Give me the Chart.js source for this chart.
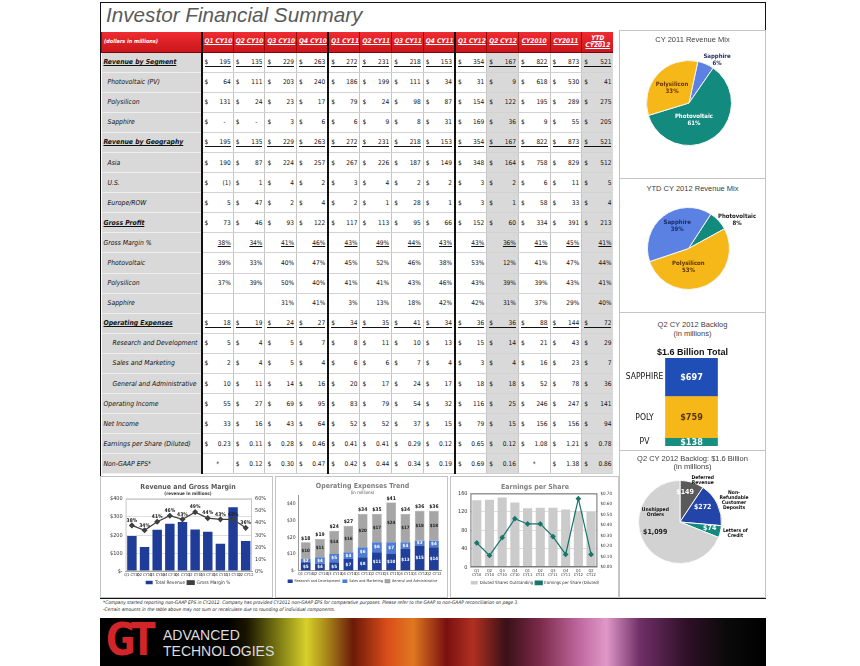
<!DOCTYPE html>
<html>
<head>
<meta charset="utf-8">
<title>Investor Financial Summary</title>
<script src="https://cdn.jsdelivr.net/npm/chart.js@4.4.1/dist/chart.umd.min.js"></script>
<style>
body { margin:0; width:860px; height:666px; position:relative; overflow:hidden; background:#fff;
  font-family:'Liberation Sans Narrow','DejaVu Sans Condensed',Roboto,sans-serif; color:#111; }
.abs { position:absolute; }
#frame { left:100px; top:2px; width:666px; height:597px; border:1.5px solid #111; box-sizing:border-box; }
#pageTitle { left:106px; top:3px; font:italic 20.7px 'Liberation Sans',Arial,sans-serif; color:#5a5a5a; }
#fin { position:absolute; left:101px; top:32px; width:512px; border-collapse:collapse; table-layout:fixed; font-size:6.5px; }
#fin td { padding:0 2px; border-left:1px solid #c6c6c6; border-bottom:1px solid #d2d2d2; white-space:nowrap; overflow:hidden; vertical-align:middle; line-height:8px; }
#fin tr { height:20.1px; }
#fin tr.hd { height:20px; }
#fin tr.hd td { background:linear-gradient(#ef2c31,#c9161b); color:#fff; font-weight:bold; font-style:italic; text-align:center; border-left:1px solid #9e0a0e; border-bottom:1px solid #7a0508; line-height:7px; }
#fin tr.hd td span { text-decoration:underline; }
#fin tr.hd td.lab { text-align:left; background:linear-gradient(#ef2c31,#c9161b); color:#fff; font-size:5.5px; }
#fin td.lab { background:#d9d9d9; font-style:italic; border-left:none; border-bottom:1px solid #efefef; text-align:left; font-size:6.8px; }
#fin td.lab.main { font-weight:bold; text-decoration:underline; }
#fin td.lab.sub { padding-left:6px; }
#fin td.lab.sub2 { padding-left:11px; }
#fin td.num { text-align:right; }
#fin td.sh { background:#d9d9d9; }
#fin td.tk { border-left:2px solid #111; }
.cur { float:left; }
.ul { border-bottom:1px solid #111; line-height:8px; }
.pul { text-decoration:underline; }
.box { position:absolute; border:1px solid #c4c4c4; box-sizing:border-box; }
.ptitle { position:absolute; left:620px; width:145px; text-align:center; font:7.5px 'Liberation Sans',Arial,sans-serif; color:#404040; line-height:9px; }
canvas { position:absolute; }
.note { position:absolute; left:103px; font-style:italic; font-size:4.8px; color:#222; white-space:nowrap; }
#banner { left:100px; top:618px; width:666px; height:48px;
  background:linear-gradient(90deg,#000 0%,#000 19%,#1a1400 22%,#6b6a10 26%,#d8d02a 31%,#a8881a 34%,#6b1a08 38%,#d84c1a 43%,#e07820 47%,#7a1010 52%,#b03020 56%,#3a1018 61%,#7a2a48 66%,#c068a0 72%,#e098c8 76%,#703068 81%,#301028 88%,#0a0a0a 94%,#000 100%); }
#gt { left:106px; top:617px; font:bold 45px 'DejaVu Sans',sans-serif; color:#d3242a; letter-spacing:-5px; line-height:45px; transform:scaleX(0.8); transform-origin:left top; }
.brand { position:absolute; left:163px; font:14px 'Liberation Sans',Arial,sans-serif; color:#dcdcdc; line-height:15px; }
</style>
</head>
<body>
<div id="frame" class="abs"></div>
<div id="pageTitle" class="abs">Investor Financial Summary</div>
<table id="fin"></table>

<div class="box" style="left:619px;top:30px;width:147px;height:149px"></div>
<div class="box" style="left:619px;top:178px;width:147px;height:135px"></div>
<div class="box" style="left:619px;top:312px;width:147px;height:139px"></div>
<div class="box" style="left:619px;top:450px;width:147px;height:148px"></div>
<div class="box" style="left:100px;top:476px;width:173px;height:122px"></div>
<div class="box" style="left:275px;top:476px;width:173px;height:122px"></div>
<div class="box" style="left:450px;top:476px;width:169px;height:122px"></div>

<canvas id="mix2011" width="145" height="130" style="left:620px;top:40px"></canvas>
<canvas id="mix2012" width="145" height="115" style="left:620px;top:195px"></canvas>
<canvas id="backlogBar" width="145" height="98" style="left:620px;top:352px"></canvas>
<canvas id="backlogPie" width="145" height="120" style="left:620px;top:470px"></canvas>
<canvas id="revChart" width="171" height="119" style="left:101px;top:477px"></canvas>
<canvas id="opexChart" width="171" height="119" style="left:276px;top:477px"></canvas>
<canvas id="epsChart" width="167" height="119" style="left:451px;top:477px"></canvas>

<div class="ptitle" style="top:35px">CY 2011 Revenue Mix</div>
<div class="ptitle" style="top:184px">YTD CY 2012 Revenue Mix</div>
<div class="ptitle" style="top:320px">Q2 CY 2012 Backlog<br>(in millions)</div>
<div class="ptitle" id="backlogTotal" style="top:347px;font-weight:bold;font-size:9px;color:#111;line-height:11px"></div>
<div class="ptitle" id="backlogPieTitle" style="top:455px;line-height:8px"></div>

<div class="note" style="top:600px">*Company started reporting non-GAAP EPS in CY2012.  Company has provided CY2011 non-GAAP EPS for comparative purposes.  Please refer to the GAAP to non-GAAP reconciliation on page 3.</div>
<div class="note" style="top:607px">-Certain amounts in the table above may not sum or recalculate due to rounding of individual components.</div>

<div id="banner" class="abs"></div>
<div id="gt" class="abs">GT</div>
<div class="brand" style="top:628px">ADVANCED</div>
<div class="brand" style="top:644px">TECHNOLOGIES</div>

<script>
var F = "'Liberation Sans Narrow','DejaVu Sans Condensed',Roboto,sans-serif";

// columns of the summary table
var quarters = ['Q1 CY10', 'Q2 CY10', 'Q3 CY10', 'Q4 CY10', 'Q1 CY11', 'Q2 CY11', 'Q3 CY11', 'Q4 CY11', 'Q1 CY12', 'Q2 CY12'];
var years = ['CY2010', 'CY2011', 'YTD CY2012'];

var revTotal = [195, 135, 229, 263, 272, 231, 218, 153, 354, 167, 822, 873, 521];
var revPV = [64, 111, 203, 240, 186, 199, 111, 34, 31, 9, 618, 530, 41];
var revPoly = [131, 24, 23, 17, 79, 24, 98, 87, 154, 122, 195, 289, 275];
var revSapphire = [null, null, 3, 6, 6, 9, 8, 31, 169, 36, 9, 55, 205];
var geoTotal = [195, 135, 229, 263, 272, 231, 218, 153, 354, 167, 822, 873, 521];
var geoAsia = [190, 87, 224, 257, 267, 226, 187, 149, 348, 164, 758, 829, 512];
var geoUS = [-1, 1, 4, 2, 3, 4, 2, 2, 3, 2, 6, 11, 5];
var geoEurope = [5, 47, 2, 4, 2, 1, 28, 1, 3, 1, 58, 33, 4];
var grossProfit = [73, 46, 93, 122, 117, 113, 95, 66, 152, 60, 334, 391, 213];
var gmTotal = [38, 34, 41, 46, 43, 49, 44, 43, 43, 36, 41, 45, 41];
var gmPV = [39, 33, 40, 47, 45, 52, 46, 38, 53, 12, 41, 47, 44];
var gmPoly = [37, 39, 50, 40, 41, 41, 43, 46, 43, 39, 39, 43, 41];
var gmSapphire = [null, null, 31, 41, 3, 13, 18, 42, 42, 31, 37, 29, 40];
var opexTotal = [18, 19, 24, 27, 34, 35, 41, 34, 36, 36, 88, 144, 72];
var opexRD = [5, 4, 5, 7, 8, 11, 10, 13, 15, 14, 21, 43, 29];
var opexSM = [2, 4, 5, 4, 6, 6, 7, 4, 3, 4, 16, 23, 7];
var opexGA = [10, 11, 14, 16, 20, 17, 24, 17, 18, 18, 52, 78, 36];
var opIncome = [55, 27, 69, 95, 83, 79, 54, 32, 116, 25, 246, 247, 141];
var netIncome = [33, 16, 43, 64, 52, 52, 37, 15, 79, 15, 156, 156, 94];
var epsDiluted = [0.23, 0.11, 0.28, 0.46, 0.41, 0.41, 0.29, 0.12, 0.65, 0.12, 1.08, 1.21, 0.78];
var epsNonGaap = [null, 0.12, 0.30, 0.47, 0.42, 0.44, 0.34, 0.19, 0.69, 0.16, null, 1.38, 0.86];

var dilutedShares = [145, 146, 151, 140, 128, 129, 129, 125, 122, 120];

var backlogNames = ['SAPPHIRE', 'POLY', 'PV'];
var backlogValues = [697, 759, 138];
var backlogTypes = ['Deferred Revenue', 'Non-Refundable Customer Deposits', 'Letters of Credit', 'Unshipped Orders'];
var backlogTypeValues = [149, 272, 74, 1099];

var Q = quarters.length;

// ---------- table ----------
function usd(v) {
  if (v === null) return '<span style="padding-right:5px">-</span>';
  return v < 0 ? '(' + (-v) + ')' : String(v);
}
function cellText(v, kind, style) {
  if (kind === 'pct') {
    if (v === null) return '';
    return style === 'pcthead' ? '<span class="pul">' + v + '%</span>' : v + '%';
  }
  if (kind === 'eps') {
    if (v === null) return '<div style="text-align:center">*</div>';
    return '<span class="cur">$</span>' + v.toFixed(2);
  }
  var inner = '<span class="cur">$</span>' + usd(v);
  return style === 'main' ? '<div class="ul">' + inner + '</div>' : inner;
}

var tableRows = [
  ['Revenue by Segment', revTotal, 'usd', 'main'],
  ['Photovoltaic (PV)', revPV, 'usd', 'sub'],
  ['Polysilicon', revPoly, 'usd', 'sub'],
  ['Sapphire', revSapphire, 'usd', 'sub'],
  ['Revenue by Geography', geoTotal, 'usd', 'main'],
  ['Asia', geoAsia, 'usd', 'sub'],
  ['U.S.', geoUS, 'usd', 'sub'],
  ['Europe/ROW', geoEurope, 'usd', 'sub'],
  ['Gross Profit', grossProfit, 'usd', 'head'],
  ['Gross Margin %', gmTotal, 'pct', 'pcthead'],
  ['Photovoltaic', gmPV, 'pct', 'sub'],
  ['Polysilicon', gmPoly, 'pct', 'sub'],
  ['Sapphire', gmSapphire, 'pct', 'sub'],
  ['Operating Expenses', opexTotal, 'usd', 'main'],
  ['Research and Development', opexRD, 'usd', 'sub2'],
  ['Sales and Marketing', opexSM, 'usd', 'sub2'],
  ['General and Administrative', opexGA, 'usd', 'sub2'],
  ['Operating Income', opIncome, 'usd', 'plain'],
  ['Net Income', netIncome, 'usd', 'plain'],
  ['Earnings per Share (Diluted)', epsDiluted, 'eps', 'plain'],
  ['Non-GAAP EPS*', epsNonGaap, 'eps', 'plain']
];

function colClass(i) {
  var c = [];
  if (i === 0 || i === 4 || i === 8) c.push('tk');
  if (i === 9 || i === 12) c.push('sh');
  return c.join(' ');
}

var html = '<colgroup><col style="width:100px">' + new Array(14).join('<col style="width:31.7px">') + '</colgroup>';
html += '<tr class="hd"><td class="lab">(dollars in millions)</td>';
quarters.concat(years).forEach(function (c, i) {
  var t = i === 12 ? 'YTD<br>CY2012' : c;
  html += '<td class="' + colClass(i) + '" style="' + (i === 0 || i === 4 || i === 8 ? 'border-left:2px solid #111' : '') + '"><span>' + t + '</span></td>';
});
html += '</tr>';
tableRows.forEach(function (r) {
  var labCls = r[3] === 'main' || r[3] === 'head' ? 'main' : (r[3] === 'sub' || r[3] === 'sub2' ? r[3] : '');
  html += '<tr><td class="lab ' + labCls + '">' + r[0] + '</td>';
  r[1].forEach(function (v, i) {
    html += '<td class="num ' + colClass(i) + '">' + cellText(v, r[2], r[3]) + '</td>';
  });
  html += '</tr>';
});
document.getElementById('fin').innerHTML = html;

// ---------- charts ----------
Chart.defaults.font.family = F;
Chart.defaults.color = '#333';
Chart.defaults.animation = false;
Chart.defaults.responsive = false;
Chart.defaults.plugins.legend.display = false;
Chart.defaults.plugins.tooltip.enabled = false;

// text on marks, placed from the element geometry
var markLabels = {
  id: 'markLabels',
  afterDatasetsDraw: function (chart) {
    var ctx = chart.ctx;
    chart.data.datasets.forEach(function (ds, i) {
      if (!ds.marks) return;
      var meta = chart.getDatasetMeta(i);
      ds.marks.forEach(function (m) {
        meta.data.forEach(function (el, j) {
          var txt = m.text[j];
          if (txt === undefined || txt === null || txt === '') return;
          var lines = [].concat(txt), x = el.x, y = el.y;
          if (m.pos === 'arc') {
            var a = (el.startAngle + el.endAngle) / 2 + (m.turn ? m.turn[j] : 0) * Math.PI / 180;
            var r = el.outerRadius * m.dist[j];
            x = el.x + Math.cos(a) * r;
            y = el.y + Math.sin(a) * r;
          } else if (m.pos === 'center' || m.pos === 'side') {
            y = (el.y + el.base) / 2;
            if (m.pos === 'side') x = el.x + m.dx;
          } else {
            y = el.y - m.gap;
          }
          ctx.save();
          ctx.font = m.font;
          ctx.fillStyle = Array.isArray(m.color) ? m.color[j] : m.color;
          ctx.textAlign = 'center';
          ctx.textBaseline = 'middle';
          var lh = m.line || 7;
          lines.forEach(function (ln, k) {
            ctx.fillText(ln, x, y + (k - (lines.length - 1) / 2) * lh);
          });
          ctx.restore();
        });
      });
    });
  }
};

var plotFrame = {
  id: 'plotFrame',
  afterDraw: function (chart, args, opts) {
    if (!opts.color) return;
    var a = chart.chartArea, ctx = chart.ctx;
    ctx.save();
    ctx.strokeStyle = opts.color;
    ctx.lineWidth = 1;
    ctx.strokeRect(a.left + 0.5, a.top + 0.5, a.width - 1, a.height - 1);
    ctx.restore();
  }
};

function pct(v, list) {
  var sum = list.reduce(function (s, x) { return s + x; }, 0);
  return Math.round(v / sum * 100) + '%';
}

var tealC = '#138a7e', goldC = '#f6b819', blueC = '#5b82e2';

// CY 2011 revenue mix
var mix11 = [revSapphire[11], revPV[11], revPoly[11]];
new Chart(document.getElementById('mix2011'), {
  type: 'pie',
  data: {
    labels: ['Sapphire', 'Photovoltaic', 'Polysilicon'],
    datasets: [{
      data: mix11,
      backgroundColor: [blueC, tealC, goldC],
      borderColor: '#f4f4f4',
      borderWidth: 1,
      marks: [{
        text: [['Sapphire', pct(mix11[0], mix11)], ['Photovoltaic', pct(mix11[1], mix11)], ['Polysilicon', pct(mix11[2], mix11)]],
        pos: 'arc', dist: [1.2, 0.42, 0.54], turn: [10, 20, 0],
        color: ['#1f2a5c', '#ffffff', '#6b3300'], font: 'bold 6px ' + F, line: 7
      }]
    }]
  },
  options: { rotation: 12, layout: { padding: { left: 26, right: 33, top: 20, bottom: 24 } } },
  plugins: [markLabels]
});

// YTD CY 2012 revenue mix
var mix12 = [revPV[12], revPoly[12], revSapphire[12]];
new Chart(document.getElementById('mix2012'), {
  type: 'pie',
  data: {
    labels: ['Photovoltaic', 'Polysilicon', 'Sapphire'],
    datasets: [{
      data: mix12,
      backgroundColor: [tealC, goldC, blueC],
      borderColor: '#f4f4f4',
      borderWidth: 1,
      marks: [{
        text: [['Photovoltaic', pct(mix12[0], mix12)], ['Polysilicon', pct(mix12[1], mix12)], ['Sapphire', pct(mix12[2], mix12)]],
        pos: 'arc', dist: [1.38, 0.46, 0.61], turn: [12, 24, 11],
        color: ['#222222', '#5a3200', '#1a2a6b'], font: 'bold 6px ' + F, line: 7
      }]
    }]
  },
  options: { rotation: 33, layout: { padding: { left: 27, right: 35, top: 12, bottom: 20 } } },
  plugins: [markLabels]
});

// Q2 CY 2012 backlog, stacked bar (drawn bottom up: PV, POLY, SAPPHIRE)
var backlogSum = backlogValues.reduce(function (s, v) { return s + v; }, 0);
document.getElementById('backlogTotal').textContent = '$' + (backlogSum / 1000).toFixed(1) + ' Billion Total';
document.getElementById('backlogPieTitle').innerHTML = 'Q2 CY 2012 Backlog:  $' + (backlogSum / 1000).toFixed(1) + ' Billion<br>(in millions)';

var barColors = { SAPPHIRE: '#1f4fb6', POLY: '#f6b819', PV: '#178e7f' };
var barText = { SAPPHIRE: '#ffffff', POLY: '#5a3200', PV: '#ffffff' };
var stackSets = backlogNames.slice().reverse().map(function (name) {
  var v = backlogValues[backlogNames.indexOf(name)];
  return {
    label: name,
    data: [v],
    backgroundColor: barColors[name],
    barThickness: 52,
    marks: [
      { text: ['$' + v], pos: 'center', color: barText[name], font: 'bold 9px ' + F },
      { text: [name], pos: 'side', dx: -47, color: '#111', font: '8.5px ' + F }
    ]
  };
});
new Chart(document.getElementById('backlogBar'), {
  type: 'bar',
  data: { labels: ['Backlog'], datasets: stackSets },
  options: {
    layout: { padding: { top: 6, bottom: 4, left: 0, right: 2 } },
    scales: {
      x: { stacked: true, display: false },
      y: { stacked: true, display: false, min: 0, max: backlogSum }
    }
  },
  plugins: [markLabels]
});

// Q2 CY 2012 backlog by type
new Chart(document.getElementById('backlogPie'), {
  type: 'pie',
  data: {
    labels: backlogTypes,
    datasets: [{
      data: backlogTypeValues,
      backgroundColor: ['#5a5a5a', '#2344a8', '#148a7e', '#d2d2d2'],
      borderColor: '#f8f8f8',
      borderWidth: 1,
      marks: [
        {
          text: [['Deferred', 'Revenue'], ['Non-', 'Refundable', 'Customer', 'Deposits'], ['Letters of', 'Credit'], ['Unshipped', 'Orders']],
          pos: 'arc', dist: [1.14, 1.4, 1.36, 0.64], turn: [12, 4, -2, 56],
          color: '#111', font: 'bold 5px ' + F, line: 5
        },
        {
          text: backlogTypeValues.map(function (v) { return '$' + v.toLocaleString('en-US'); }),
          pos: 'arc', dist: [0.72, 0.65, 0.73, 0.65], turn: [-7, -7, -2, 11],
          color: ['#ffffff', '#ffffff', '#ffffff', '#222222'], font: 'bold 7px ' + F
        }
      ]
    }]
  },
  options: { rotation: 0, layout: { padding: { left: 18, right: 43, top: 10, bottom: 26 } } },
  plugins: [markLabels]
});

var tickFont = { size: 5.5 };
function smallLegend(size, box) {
  return { display: true, position: 'bottom', labels: { boxWidth: box || 7, boxHeight: 3.5, font: { size: size }, padding: 2 } };
}
var xTicks = { font: { size: 4 }, autoSkip: false, maxRotation: 0, minRotation: 0, padding: 1 };

// revenue and gross margin
var revLegend = smallLegend(4.8);
revLegend.reverse = true;
new Chart(document.getElementById('revChart'), {
  type: 'bar',
  data: {
    labels: quarters,
    datasets: [
      {
        type: 'line', label: 'Gross Margin %', data: gmTotal.slice(0, Q), yAxisID: 'y1',
        borderColor: '#3f3f3f', backgroundColor: '#3f3f3f', borderWidth: 1.2,
        pointStyle: 'rectRot', pointRadius: 2.2,
        marks: [{ text: gmTotal.slice(0, Q).map(function (v) { return v + '%'; }), pos: 'above', gap: 5, color: '#222', font: 'bold 5px ' + F }]
      },
      {
        label: 'Total Revenue', data: revTotal.slice(0, Q), yAxisID: 'y',
        backgroundColor: '#1f3c98', barPercentage: 0.85, categoryPercentage: 0.88
      }
    ]
  },
  options: {
    layout: { padding: { left: 6, right: 3, bottom: 1 } },
    plugins: {
      title: { display: true, text: 'Revenue and Gross Margin', color: '#595959', font: { size: 7, weight: 'bold' }, padding: { top: 6, bottom: 0 } },
      subtitle: { display: true, text: '(revenue in millions)', color: '#333', font: { size: 4.5, weight: 'bold' }, padding: { bottom: 2 } },
      legend: revLegend,
      plotFrame: { color: '#c8c8c8' }
    },
    scales: {
      x: { grid: { display: false, drawTicks: false }, border: { color: '#999' }, ticks: xTicks },
      y: {
        min: 0, max: 400, grid: { color: '#dedede', drawTicks: false }, border: { display: false },
        ticks: { stepSize: 50, font: tickFont, padding: 3, callback: function (v) { return v === 0 ? '$-' : '$' + v; } }
      },
      y1: {
        position: 'right', min: 0, max: 60, grid: { display: false, drawTicks: false }, border: { display: false },
        ticks: { stepSize: 10, font: tickFont, padding: 3, callback: function (v) { return v + '%'; } }
      }
    }
  },
  plugins: [markLabels, plotFrame]
});

// operating expenses trend
var dollars = function (list) { return list.slice(0, Q).map(function (v) { return '$' + v; }); };
new Chart(document.getElementById('opexChart'), {
  type: 'bar',
  data: {
    labels: quarters,
    datasets: [
      {
        label: 'Research and Development', data: opexRD.slice(0, Q), backgroundColor: '#203f9a',
        marks: [{ text: dollars(opexRD), pos: 'center', color: '#fff', font: 'bold 4.5px ' + F }]
      },
      {
        label: 'Sales and Marketing', data: opexSM.slice(0, Q), backgroundColor: '#4f7bd2',
        marks: [{ text: dollars(opexSM), pos: 'center', color: '#fff', font: 'bold 4.5px ' + F }]
      },
      {
        label: 'General and Administrative', data: opexGA.slice(0, Q), backgroundColor: '#a6a6a6',
        borderColor: '#8a8a8a', borderWidth: 0.5,
        marks: [
          { text: dollars(opexGA), pos: 'center', color: '#222', font: 'bold 4.5px ' + F },
          { text: dollars(opexTotal), pos: 'above', gap: 4, color: '#222', font: 'bold 5px ' + F }
        ]
      }
    ]
  },
  options: {
    layout: { padding: { left: 8, right: 6, bottom: 3 } },
    datasets: { bar: { barPercentage: 0.8, categoryPercentage: 0.85 } },
    plugins: {
      title: { display: true, text: 'Operating Expenses Trend', color: '#7f7f7f', font: { size: 7, weight: 'bold' }, padding: { top: 5, bottom: 0 } },
      subtitle: { display: true, text: '(in millions)', color: '#555', font: { size: 4.5 }, padding: { bottom: 0 } },
      legend: smallLegend(3.7, 5)
    },
    scales: {
      x: { stacked: true, grid: { display: false, drawTicks: false }, border: { color: '#999' }, ticks: xTicks },
      y: {
        stacked: true, min: 0, max: 45, grid: { display: false, drawTicks: false }, border: { color: '#999' },
        ticks: { stepSize: 5, font: { size: 5 }, padding: 3, callback: function (v) { return v === 0 ? '$-' : '$' + v; } }
      }
    }
  },
  plugins: [markLabels]
});

// earnings per share
var epsLegend = smallLegend(4.3);
epsLegend.reverse = true;
new Chart(document.getElementById('epsChart'), {
  type: 'bar',
  data: {
    labels: quarters.map(function (q) { return q.split(' '); }),
    datasets: [
      {
        type: 'line', label: 'Earnings per Share (Diluted)', data: epsDiluted.slice(0, Q), yAxisID: 'y1',
        borderColor: '#17766b', backgroundColor: '#17766b', borderWidth: 1.2,
        pointStyle: 'rectRot', pointRadius: 2
      },
      {
        label: 'Diluted Shares Outstanding', data: dilutedShares, yAxisID: 'y',
        backgroundColor: '#cbcbcb', barPercentage: 0.8, categoryPercentage: 0.9
      }
    ]
  },
  options: {
    layout: { padding: { left: 4, right: 3, bottom: 1 } },
    plugins: {
      title: { display: true, text: 'Earnings per Share', color: '#7f7f7f', font: { size: 7, weight: 'bold' }, padding: { top: 6, bottom: 2 } },
      legend: epsLegend,
      plotFrame: { color: '#6f6f6f' }
    },
    scales: {
      x: { grid: { display: false, drawTicks: false }, ticks: xTicks },
      y: { min: 0, max: 160, grid: { color: '#dedede', drawTicks: false }, border: { display: false }, ticks: { stepSize: 20, font: tickFont, padding: 3 } },
      y1: {
        position: 'right', min: 0, max: 0.7, grid: { display: false, drawTicks: false }, border: { display: false },
        ticks: { stepSize: 0.1, font: { size: 4.5 }, padding: 3, callback: function (v) { return '$' + v.toFixed(2); } }
      }
    }
  },
  plugins: [markLabels, plotFrame]
});
</script>
</body>
</html>
